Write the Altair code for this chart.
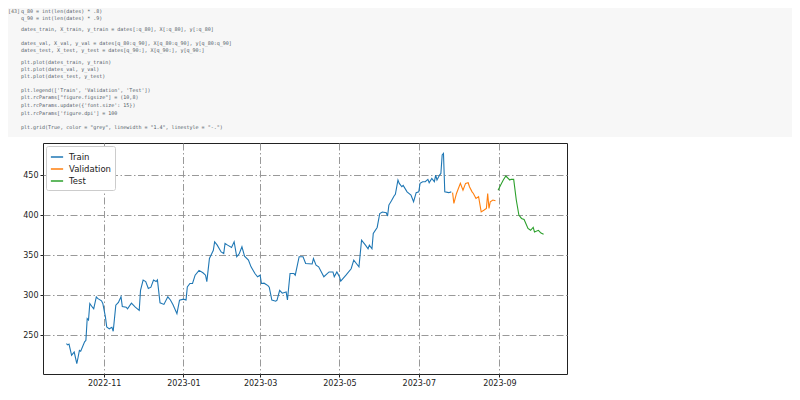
import altair as alt
import pandas as pd

# ---------------- data ----------------
train_dates = [
    "2022-10-03", "2022-10-04", "2022-10-05", "2022-10-07", "2022-10-08", "2022-10-09",
    "2022-10-11", "2022-10-12", "2022-10-13", "2022-10-14", "2022-10-17", "2022-10-18",
    "2022-10-19", "2022-10-20", "2022-10-21", "2022-10-23", "2022-10-24", "2022-10-26",
    "2022-10-27", "2022-10-30", "2022-10-31", "2022-11-02", "2022-11-03", "2022-11-05",
    "2022-11-07", "2022-11-08", "2022-11-10", "2022-11-12", "2022-11-14", "2022-11-15",
    "2022-11-18", "2022-11-19", "2022-11-22", "2022-11-25", "2022-11-28", "2022-11-29",
    "2022-12-01", "2022-12-03", "2022-12-05", "2022-12-07", "2022-12-09", "2022-12-11",
    "2022-12-12", "2022-12-14", "2022-12-17", "2022-12-20", "2022-12-22", "2022-12-24",
    "2022-12-27", "2022-12-29", "2023-01-01", "2023-01-03", "2023-01-04", "2023-01-06",
    "2023-01-08", "2023-01-10", "2023-01-13", "2023-01-16", "2023-01-18", "2023-01-19",
    "2023-01-21", "2023-01-24", "2023-01-25", "2023-01-27", "2023-01-30", "2023-02-01",
    "2023-02-02", "2023-02-04", "2023-02-07", "2023-02-09", "2023-02-11", "2023-02-13",
    "2023-02-15", "2023-02-17", "2023-02-20", "2023-02-22", "2023-02-25", "2023-02-27",
    "2023-03-01", "2023-03-02", "2023-03-04", "2023-03-07", "2023-03-08", "2023-03-10",
    "2023-03-13", "2023-03-14", "2023-03-16", "2023-03-18", "2023-03-21", "2023-03-22",
    "2023-03-24", "2023-03-27", "2023-03-28", "2023-03-31", "2023-04-03", "2023-04-05",
    "2023-04-10", "2023-04-11", "2023-04-13", "2023-04-15", "2023-04-19", "2023-04-23",
    "2023-04-26", "2023-04-27", "2023-04-29", "2023-05-01", "2023-05-02", "2023-05-06",
    "2023-05-10", "2023-05-12", "2023-05-14", "2023-05-16", "2023-05-18", "2023-05-21",
    "2023-05-23", "2023-05-24", "2023-05-26", "2023-05-27", "2023-05-30", "2023-06-01",
    "2023-06-03", "2023-06-06", "2023-06-07", "2023-06-08", "2023-06-10", "2023-06-12",
    "2023-06-13", "2023-06-15", "2023-06-16", "2023-06-18", "2023-06-19", "2023-06-22",
    "2023-06-25", "2023-06-27", "2023-06-29", "2023-07-01", "2023-07-02", "2023-07-04",
    "2023-07-06", "2023-07-08", "2023-07-09", "2023-07-11", "2023-07-13", "2023-07-14",
    "2023-07-15", "2023-07-17", "2023-07-18", "2023-07-19", "2023-07-20", "2023-07-21",
    "2023-07-24", "2023-07-26",
]
train_vals = [
    239.6, 238, 239, 225, 227, 229,
    214.6, 222.5, 231, 230, 241.7, 243.7,
    270.8, 269, 289.6, 285, 283, 297.9,
    296, 293, 289.6, 272.9, 260.4, 258,
    260, 255, 287.5, 291, 298, 285.8,
    285, 283, 290, 285, 281, 306,
    318.8, 317, 308.4, 310, 318.8, 317,
    319, 290.4, 288.5, 298, 294, 288,
    277, 293.8, 295, 294, 310.4, 314.6,
    314.6, 325, 331, 328, 325, 317,
    345.8, 356, 366.7, 362.5, 354, 352,
    364.6, 362.5, 359.6, 366.7, 347.9, 352,
    360.4, 348.8, 343.8, 335.4, 327, 323,
    325, 314.6, 315, 312, 310, 293.8,
    292.5, 293.8, 306, 302.5, 304, 294,
    327, 327, 325, 348, 348, 339.6,
    339, 345.8, 337.5, 335.4, 323, 329,
    329, 323, 329, 323, 317.5, 325,
    333, 343.8, 339.6, 335.4, 368.8, 362.5,
    358, 362.5, 358, 377, 384.6, 402,
    403.8, 403, 398.8, 412.5, 418, 423.8,
    426, 443.8, 439.6, 435.4, 437, 429,
    425, 416.7, 428, 429, 439.6, 441.7,
    441.7, 444.6, 440.4, 445.8, 441.7, 450,
    443.8, 450, 452, 475, 477, 429,
    428, 429,
]

val_dates = [
    "2023-07-27", "2023-07-28", "2023-07-30", "2023-08-02", "2023-08-04", "2023-08-06",
    "2023-08-08", "2023-08-09", "2023-08-11", "2023-08-12", "2023-08-14", "2023-08-16",
    "2023-08-18", "2023-08-20", "2023-08-22", "2023-08-23", "2023-08-24", "2023-08-25",
    "2023-08-27", "2023-08-29",
]
val_vals = [
    428, 414.6, 427, 439.6, 431, 439.6,
    440.4, 435.4, 429, 427, 420.8, 423,
    404, 406, 408.3, 427, 408.3, 416.7,
    418.8, 418,
]

test_dates = [
    "2023-08-31", "2023-09-02", "2023-09-04", "2023-09-06", "2023-09-09", "2023-09-10",
    "2023-09-12", "2023-09-14", "2023-09-16", "2023-09-18", "2023-09-20", "2023-09-23",
    "2023-09-25", "2023-09-27", "2023-09-28", "2023-10-01", "2023-10-03", "2023-10-05",
]
test_vals = [
    431, 437.5, 443.8, 448.8, 443.8, 444.6,
    444.6, 418.8, 400, 395.8, 394.6, 383.3,
    381, 384.6, 379, 381, 377.5, 376,
]

series_names = ["Train", "Validation", "Test"]
series_colors = ["#1f77b4", "#ff7f0e", "#2ca02c"]

y_ticks = [250, 300, 350, 400, 450]
x_ticks = ["2022-11-01", "2023-01-01", "2023-03-01", "2023-05-01", "2023-07-01", "2023-09-01"]

code_prompt = "[43]"
code_lines = [
    "q_80 = int(len(dates) * .8)",
    "q_90 = int(len(dates) * .9)",
    "dates_train, X_train, y_train = dates[:q_80], X[:q_80], y[:q_80]",
    "dates_val, X_val, y_val = dates[q_80:q_90], X[q_80:q_90], y[q_80:q_90]",
    "dates_test, X_test, y_test = dates[q_90:], X[q_90:], y[q_90:]",
    "plt.plot(dates_train, y_train)",
    "plt.plot(dates_val, y_val)",
    "plt.plot(dates_test, y_test)",
    "plt.legend(['Train', 'Validation', 'Test'])",
    "plt.rcParams[\"figure.figsize\"] = (10,8)",
    "plt.rcParams.update({'font.size': 15})",
    "plt.rcParams['figure.dpi'] = 100",
    "plt.grid(True, color = \"grey\", linewidth = \"1.4\", linestyle = \"-.\")",
]
# vertical layout offsets of code lines (pixels, relative to plot top)
code_line_y = [-132, -125, -114, -100, -93, -81, -74, -67, -53, -46, -38, -30, -16]

# ---------------- build table ----------------
rows = []
for name, ds, vs in zip(series_names, [train_dates, val_dates, test_dates],
                        [train_vals, val_vals, test_vals]):
    for d, v in zip(ds, vs):
        rows.append({"date": d, "value": v, "split": name})
df = pd.DataFrame(rows)


def dt(s):
    t = pd.Timestamp(s)
    return alt.DateTime(year=t.year, month=t.month, date=t.day, utc=True)


x_scale = alt.Scale(type="utc", domain=[dt("2022-09-15"), dt("2023-10-23")], nice=False)
y_scale = alt.Scale(domain=[201.6, 490], nice=False, zero=False)

lines = alt.Chart(df).mark_line(strokeWidth=1.1).encode(
    x=alt.X("date:T", scale=x_scale, title=None,
            axis=alt.Axis(values=[dt(s) for s in x_ticks],
                          labelExpr="utcFormat(datum.value, '%Y-%m')")),
    y=alt.Y("value:Q", scale=y_scale, title=None,
            axis=alt.Axis(values=y_ticks)),
    color=alt.Color("split:N",
                    scale=alt.Scale(domain=series_names, range=series_colors),
                    sort=series_names,
                    legend=alt.Legend(title=None, orient="top-left", offset=3,
                                      strokeColor="#cccccc", fillColor="white",
                                      padding=4, cornerRadius=2,
                                      symbolType="stroke", symbolStrokeWidth=1.5,
                                      symbolSize=150, labelFontSize=8.5,
                                      labelFont="DejaVu Sans", labelColor="#222",
                                      rowPadding=0, labelOffset=5)),
    order=alt.Order("date:T"),
)

one = pd.DataFrame({"k": [0]})
code_bg = alt.Chart(one).mark_rect(color="#f7f7f7").encode(
    x=alt.value(-35), x2=alt.value(749), y=alt.value(-135), y2=alt.value(-6)
)

layers = [code_bg]
layers.append(
    alt.Chart(pd.DataFrame({"t": [code_prompt]})).mark_text(
        align="left", baseline="middle", font="DejaVu Sans Mono", fontSize=5,
        color="#666").encode(text="t:N", x=alt.value(-35), y=alt.value(code_line_y[0]))
)
for line, yy in zip(code_lines, code_line_y):
    layers.append(
        alt.Chart(pd.DataFrame({"t": [line]})).mark_text(
            align="left", baseline="middle", font="DejaVu Sans Mono", fontSize=5,
            color="#505a66").encode(text="t:N", x=alt.value(-22), y=alt.value(yy))
    )
layers.append(lines)

chart = alt.layer(*layers).properties(
    width=524, height=231,
    autosize=alt.AutoSizeParams(type="none"),
    padding={"left": 35, "top": 135, "right": 225, "bottom": 18},
    background="white",
).configure_view(
    stroke="#222", strokeWidth=1
).configure_axis(
    domain=False,
    grid=True, gridColor="#999999", gridDash=[7, 2.5, 1.5, 2.5], gridWidth=1,
    ticks=True, tickColor="#222", tickSize=3,
    labelColor="#222", labelFont="DejaVu Sans", labelFontSize=8, labelPadding=2,
)

chart.save("out.html", embed_options={"renderer": "svg", "actions": False})
